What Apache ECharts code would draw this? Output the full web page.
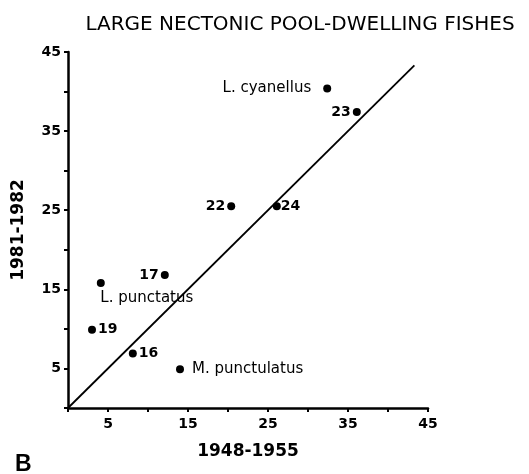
<!DOCTYPE html>
<html><head><meta charset="utf-8">
<script src="https://cdn.jsdelivr.net/npm/echarts@6/dist/echarts.min.js"></script>
<style>html,body{margin:0;padding:0;background:#fff}#c{width:529px;height:474px}</style>
</head><body><div id="c"></div>
<script>
const pointNames = ['L. cyanellus','23','22','24','17','L. punctatus','19','16','M. punctulatus'];
const x1948 = [32.4, 36.1, 20.4, 26.1, 12.1, 4.1, 3.0, 8.1, 14.0];
const y1981 = [40.4, 37.4, 25.5, 25.5, 16.8, 15.8, 9.9, 6.9, 4.9];
const lineX = [0, 43.3];
const lineY = [0, 43.3];
const tickLabels = ['5','15','25','35','45'];

const labelSide = {
  'L. cyanellus': {position: 'left', distance: 12},
  '23': {position: 'left', distance: 2},
  '22': {position: 'left', distance: 2},
  '24': {position: 'right', distance: 0},
  '17': {position: 'left', distance: 2},
  'L. punctatus': {position: 'bottom', distance: 4, offset: [46, 0]},
  '19': {position: 'right', distance: 2},
  '16': {position: 'right', distance: 2},
  'M. punctulatus': {position: 'right', distance: 8}
};

const chart = echarts.init(document.getElementById('c'), null, {renderer: 'canvas'});
const axisCommon = {
  type: 'value', min: 0, max: 45, interval: 5,
  axisLine: {show: true, lineStyle: {color: '#000', width: 2.5}},
  axisTick: {show: true, length: 4, lineStyle: {color: '#000', width: 2}},
  splitLine: {show: false},
  axisLabel: {
    color: '#000', fontFamily: 'DejaVu Sans', fontWeight: 'bold', fontSize: 14,
    formatter: v => tickLabels.indexOf(String(v)) >= 0 ? String(v) : ''
  }
};
chart.setOption({
  animation: false,
  backgroundColor: '#fff',
  title: [
    {text: 'LARGE NECTONIC POOL-DWELLING FISHES', left: 295, top: 10, textAlign: 'center',
     textStyle: {fontFamily: 'DejaVu Sans', fontWeight: 'normal', fontSize: 20, color: '#000'}},
    {text: 'B', left: 10, top: 448,
     textStyle: {fontFamily: 'Liberation Sans', fontWeight: 'bold', fontSize: 23, color: '#000'}}
  ],
  grid: {left: 68, right: 101, top: 52, bottom: 66, containLabel: false},
  xAxis: Object.assign({}, axisCommon, {
    name: '1948-1955', nameLocation: 'middle', nameGap: 35,
    nameTextStyle: {color: '#000', fontFamily: 'DejaVu Sans', fontWeight: 'bold', fontSize: 17},
    axisLabel: Object.assign({}, axisCommon.axisLabel, {margin: 9})
  }),
  yAxis: Object.assign({}, axisCommon, {
    name: '1981-1982', nameLocation: 'middle', nameGap: 41,
    nameTextStyle: {color: '#000', fontFamily: 'DejaVu Sans', fontWeight: 'bold', fontSize: 17},
    axisLabel: Object.assign({}, axisCommon.axisLabel, {margin: 7})
  }),
  series: [
    {
      type: 'line', data: lineX.map((v, i) => [v, lineY[i]]),
      showSymbol: false, symbol: 'none',
      lineStyle: {color: '#000', width: 1.8}, z: 1
    },
    {
      type: 'scatter', symbol: 'circle', symbolSize: 8,
      itemStyle: {color: '#000', opacity: 1},
      data: pointNames.map((n, i) => ({
        value: [x1948[i], y1981[i]],
        name: n,
        label: Object.assign({
          show: true, formatter: n, color: '#000',
          fontFamily: 'DejaVu Sans',
          fontSize: /^\d+$/.test(n) ? 14 : 15,
          fontWeight: /^\d+$/.test(n) ? 'bold' : 'normal'
        }, labelSide[n])
      })),
      z: 2
    }
  ]
});
</script></body></html>
